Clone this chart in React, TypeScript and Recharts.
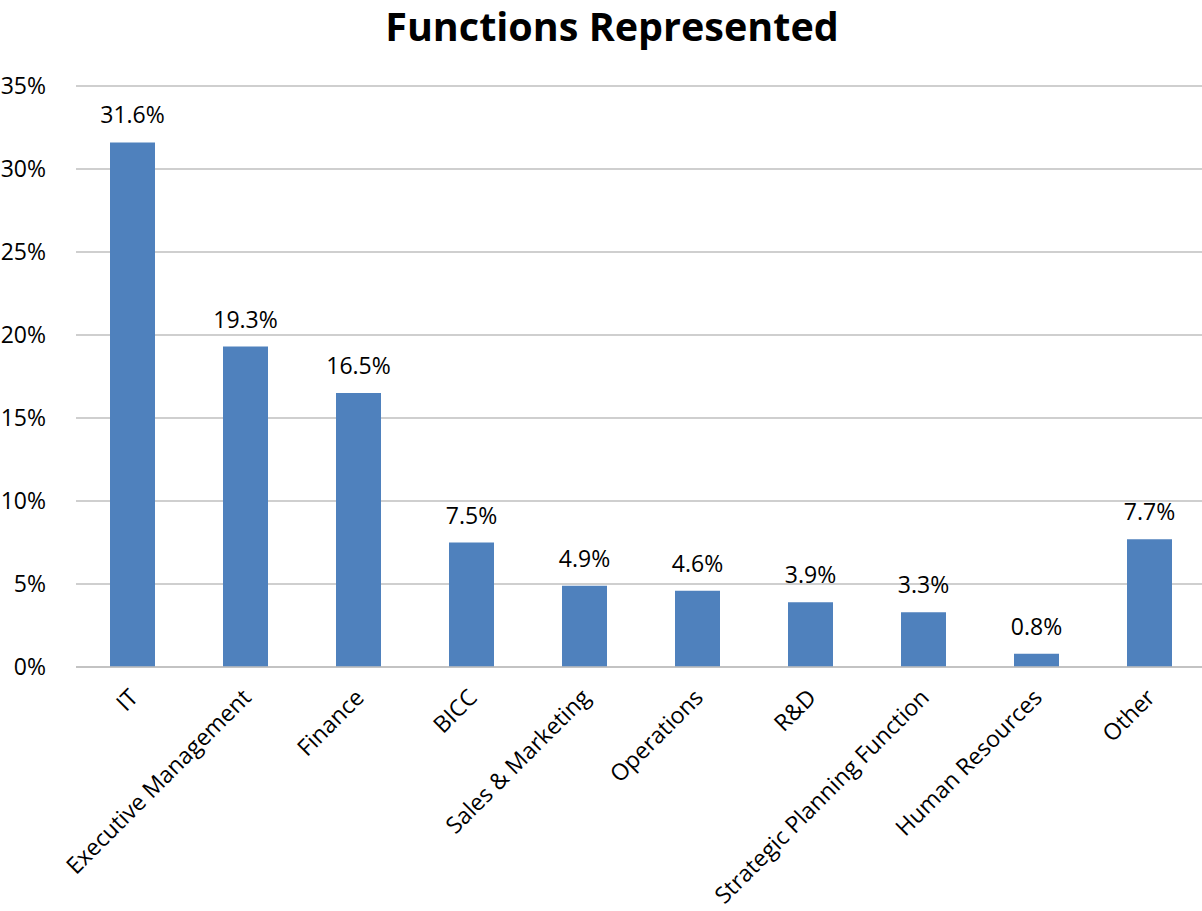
import { Bar, BarChart, CartesianGrid, LabelList, XAxis, YAxis } from "recharts"

const functions = [
  "IT",
  "Executive Management",
  "Finance",
  "BICC",
  "Sales & Marketing",
  "Operations",
  "R&D",
  "Strategic Planning Function",
  "Human Resources",
  "Other",
]
const shares = [31.6, 19.3, 16.5, 7.5, 4.9, 4.6, 3.9, 3.3, 0.8, 7.7]
const yTicks = [0, 5, 10, 15, 20, 25, 30, 35]

const data = functions.map((name, i) => ({ name, share: shares[i] }))

const FONT = "'Open Sans', 'Noto Sans', sans-serif"

const AngledTick = (props: any) => {
  const { x, y, payload } = props
  return (
    <text
      x={0}
      y={0}
      transform={`translate(${x + 7},${y + 24}) rotate(-45)`}
      textAnchor="end"
      fontSize={23}
      fontFamily={FONT}
      fill="#000"
    >
      {payload.value}
    </text>
  )
}

export default function App() {
  return (
    <div style={{ position: "absolute", left: 0, top: 0, width: 1202, height: 911, background: "#fff" }}>
      <div
        style={{
          position: "absolute",
          left: 0,
          top: -1,
          width: 1224,
          textAlign: "center",
          fontFamily: FONT,
          fontWeight: 700,
          fontSize: 39.5,
          color: "#000",
        }}
      >
        Functions Represented
      </div>
      <BarChart width={1202} height={911} data={data} margin={{ top: 86, right: -4, bottom: 0, left: 0 }}>
        <CartesianGrid vertical={false} stroke="#BFBFBF" strokeWidth={1.3} />
        <XAxis
          dataKey="name"
          interval={0}
          height={244}
          tick={<AngledTick />}
          tickLine={false}
          axisLine={{ stroke: "#BFBFBF", strokeWidth: 1.3 }}
        />
        <YAxis
          width={76}
          domain={[0, 35]}
          ticks={yTicks}
          tickFormatter={(v) => `${v}%`}
          tickLine={false}
          axisLine={false}
          tickMargin={24}
          tick={{ fontSize: 23, fontFamily: FONT, fill: "#000" }}
        />
        <Bar dataKey="share" fill="#4F81BD" barSize={45} isAnimationActive={false}>
          <LabelList
            dataKey="share"
            position="top"
            offset={19}
            formatter={(v: any) => `${Number(v).toFixed(1)}%`}
            style={{ fontSize: 23, fontFamily: FONT, fill: "#000" }}
          />
        </Bar>
      </BarChart>
    </div>
  )
}
